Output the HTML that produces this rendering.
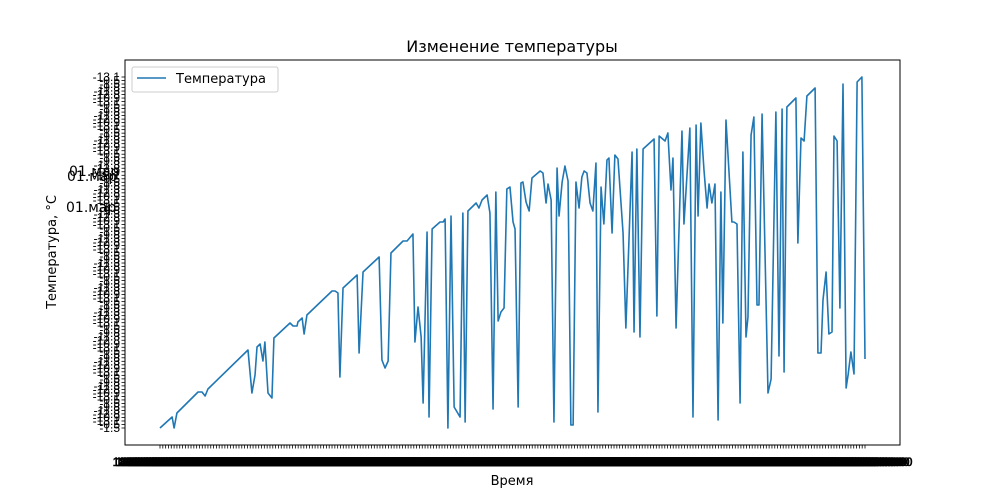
<!DOCTYPE html>
<html><head><meta charset="utf-8">
<style>
html,body{margin:0;padding:0;background:#fff;}
svg{display:block;font-family:"Liberation Sans","DejaVu Sans",sans-serif;}
</style></head>
<body>
<svg id="chart" width="1000" height="500" viewBox="0 0 1000 500">
  <rect x="0" y="0" width="1000" height="500" fill="#fff"/>
  <text x="512" y="52" font-size="16" text-anchor="middle" fill="#000" font-family="DejaVu Sans, sans-serif">Изменение температуры</text>
  <g id="yticks"></g>
  <g id="xticks"></g>
  <path id="line" fill="none" stroke="#1f77b4" stroke-width="1.6" stroke-linejoin="round"/>
  <rect x="125" y="60" width="775" height="385" fill="none" stroke="#000" stroke-width="1"/>
  <text x="512" y="485" font-size="13" text-anchor="middle" font-family="DejaVu Sans, sans-serif">Время</text>
  <text transform="translate(56,252) rotate(-90)" font-size="13" text-anchor="middle" font-family="DejaVu Sans, sans-serif">Температура, °C</text>
  <text x="67" y="181" font-size="14" font-family="DejaVu Sans, sans-serif">01.мар</text>
  <text x="69" y="176" font-size="14" font-family="DejaVu Sans, sans-serif">01.мар</text>
  <text x="66" y="212" font-size="14" font-family="DejaVu Sans, sans-serif">01.мар</text>
  <g>
    <rect x="132" y="67" width="146" height="25" rx="2" fill="#fff" stroke="#ccc"/>
    <line x1="137" y1="78" x2="166" y2="78" stroke="#1f77b4" stroke-width="1.6"/>
    <text x="176" y="83" font-size="13" font-family="DejaVu Sans, sans-serif">Температура</text>
  </g>
</svg>
<script>
const days = [0,4.3,5,6,13.5,14.9,16,17,31.2,32.6,33.7,34.4,35.5,36.5,37.2,38.3,39.7,40.4,46.1,47.2,48.6,48.9,50.4,51.1,52.1,61,62.1,63.1,63.8,64.9,69.9,70.6,72,77.7,78.7,79.8,80.9,81.9,86.2,87.6,89.7,90.4,91.5,92.6,93.3,94.7,95.4,96.5,99.3,100.4,101.1,102.1,103.2,104.3,106.4,107.4,108.2,109.2,112.1,113.1,114.2,116,117,118.1,119.1,119.9,120.9,122,123,124.1,125.2,125.9,127,128,128.7,129.8,130.9,131.9,134.8,135.8,136.9,137.6,138.7,139.7,140.8,141.5,142.6,143.6,144.7,145.7,146.5,147.5,148.6,149.6,150.4,151.4,152.5,153.5,154.6,155.3,156.4,157.4,158.5,159.2,160.3,161.3,162.4,164.2,165.2,167.4,168.1,169.1,170.2,171.3,175.2,176.2,177,179.1,180.1,181.2,181.9,183,185.1,185.8,187.9,189,190.1,190.8,191.8,192.9,194,194.7,195.7,196.8,197.9,198.9,199.6,200.7,202.8,203.5,204.6,205.7,206.7,207.8,208.5,209.6,210.6,211.7,212.4,213.5,215.6,216.7,218.4,219.5,220.6,221.3,222.3,225.5,226.2,227.3,228.4,229.4,232.3,233.3,234.4,235.1,236.2,237.2,238.3,239,240.1,241.1,242.2,243.3,244,245,246.1,247.2,248.9,250];
const temps = [0,1.1,0,1.5,3.6,3.6,3.2,3.9,7.8,3.5,5.3,8.1,8.4,6.7,8.6,3.5,3.0,9.0,10.5,10.2,10.2,10.6,11.0,9.4,11.3,13.7,13.7,13.5,5.1,14.0,15.3,7.5,15.6,17.1,6.8,6.0,6.7,17.5,18.7,18.7,19.4,8.6,12.1,9.1,2.5,19.6,1.1,19.9,20.6,20.6,20.9,0,21.2,2.1,1.1,21.5,0.6,21.7,22.5,22.0,22.8,23.3,21.5,1.9,23.6,10.7,11.6,12.0,23.9,24.1,20.6,19.9,2.1,24.5,24.6,22.6,21.7,25.0,25.7,25.5,22.5,24.4,22.8,0.6,26.0,21.2,24.6,26.2,24.7,0.3,0.3,24.6,22.0,25.1,25.7,25.5,22.5,21.7,26.5,1.6,24.1,20.4,26.8,27.0,19.5,27.3,26.9,19.5,10.0,27.6,9.6,27.9,9.1,27.9,28.9,11.2,29.2,28.7,29.5,23.8,27.0,10.0,29.7,20.4,30.0,1.1,30.3,21.2,30.5,25.8,22.0,24.4,22.5,24.4,0.8,23.6,10.5,30.8,20.6,20.6,20.4,2.5,27.6,9.1,11.1,29.3,31.1,12.3,12.3,31.4,3.5,4.9,31.6,7.2,31.9,5.6,32.1,33.0,18.5,29.0,28.7,33.2,34.0,7.5,7.5,12.8,15.6,9.4,9.6,29.2,28.7,12.0,34.4,4.0,5.3,7.6,5.4,34.6,35.1,6.9];
const xTickCount = 251;
const yTickCount = 101;
const yTickLabels = ["-1.5","-0.5","-13.1","-10.9","-12.8","-11.3","-9.8"];
const xTickLabel = "1880-01-01 00:00";

const NS = "http://www.w3.org/2000/svg";
const xMin = -12.41, xMax = 262.41, yMin = -1.7, yMax = 36.8;
const L = 125, R = 900, T = 60, B = 445;
function xScale(d){ return L + (d - xMin) / (xMax - xMin) * (R - L); }
function yScale(t){ return B - (t - yMin) / (yMax - yMin) * (B - T); }

let dStr = "";
for (let i = 0; i < days.length; i++) {
  dStr += (i ? "L" : "M") + xScale(days[i]).toFixed(2) + "," + yScale(temps[i]).toFixed(2);
}
document.getElementById("line").setAttribute("d", dStr);

const yg = document.getElementById("yticks");
const tMax = Math.max.apply(null, temps), tMin = Math.min.apply(null, temps);
for (let i = 0; i < yTickCount; i++) {
  const t = tMin + (tMax - tMin) * i / (yTickCount - 1);
  const y = yScale(t);
  const ln = document.createElementNS(NS, "line");
  ln.setAttribute("x1", L - 3.5); ln.setAttribute("x2", L);
  ln.setAttribute("y1", y); ln.setAttribute("y2", y);
  ln.setAttribute("stroke", "#000"); ln.setAttribute("stroke-width", "0.8");
  
  
  yg.appendChild(ln);
  const tx = document.createElementNS(NS, "text");
  tx.setAttribute("x", L - 5); tx.setAttribute("y", y + 4);
  tx.setAttribute("text-anchor", "end"); tx.setAttribute("font-size", "12");
  tx.textContent = yTickLabels[i % yTickLabels.length];
  
  
  yg.appendChild(tx);
}

const xg = document.getElementById("xticks");
for (let i = 0; i < xTickCount; i++) {
  const x = xScale(i);
  const ln = document.createElementNS(NS, "line");
  ln.setAttribute("x1", x); ln.setAttribute("x2", x);
  ln.setAttribute("y1", B); ln.setAttribute("y2", B + 3.5);
  ln.setAttribute("stroke", "#000"); ln.setAttribute("stroke-width", "0.8");
  
  
  xg.appendChild(ln);
  const tx = document.createElementNS(NS, "text");
  tx.setAttribute("x", x); tx.setAttribute("y", B + 21);
  tx.setAttribute("text-anchor", "middle"); tx.setAttribute("font-size", "12");
  tx.setAttribute("stroke", "#000"); tx.setAttribute("stroke-width", "0.6");
  tx.textContent = xTickLabel;
  
  
  xg.appendChild(tx);
}
</script>
</body></html>
